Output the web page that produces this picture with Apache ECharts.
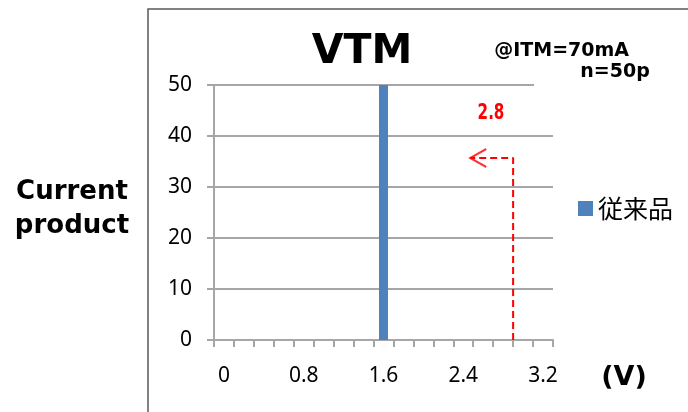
<!DOCTYPE html>
<html>
<head>
<meta charset="utf-8">
<script src="https://cdn.jsdelivr.net/npm/echarts@6/dist/echarts.min.js"></script>
<style>
  html, body { margin: 0; padding: 0; background: #fff; }
  #chart { width: 688px; height: 412px; }
</style>
</head>
<body>
<div id="chart"></div>
<script>
// VTM distribution, 0.2 V bins
var categories = ['0', '0.2', '0.4', '0.6', '0.8', '1', '1.2', '1.4', '1.6', '1.8', '2', '2.2', '2.4', '2.6', '2.8', '3', '3.2']
var xLabels = ['0', '', '', '', '0.8', '', '', '', '1.6', '', '', '', '2.4', '', '', '', '3.2']
var counts = [0, 0, 0, 0, 0, 0, 0, 0, 50, 0, 0, 0, 0, 0, 0, 0, 0]
// spec limit arrow (V, count)
var arrowPath = [[2.9, 0], [2.9, 35.7], [2.47, 35.7]]
var arrowTip = [[2.47, 35.7]]

var chart = echarts.init(document.getElementById('chart'))
var gray = '#a6a6a6'
var boldFont = 'DejaVu Sans'

chart.setOption({
  animation: false,
  grid: { left: 214, right: 135, top: 85, bottom: 72 },
  legend: {
    data: ['従来品'],
    left: 573,
    top: 191,
    icon: 'rect',
    itemWidth: 15,
    itemHeight: 15,
    textStyle: { fontSize: 25, color: '#000', fontFamily: 'Noto Sans CJK JP' }
  },
  xAxis: [
    {
      type: 'category',
      data: categories,
      boundaryGap: true,
      axisLine: { onZero: false, lineStyle: { color: gray, width: 2 } },
      axisTick: { show: true, interval: 0, length: 7, lineStyle: { color: gray, width: 2 } },
      axisLabel: {
        interval: 0,
        margin: 26,
        fontSize: 21,
        color: '#000',
        fontFamily: 'Noto Sans',
        formatter: function (v, i) { return xLabels[i] }
      },
      splitLine: { show: false }
    },
    {
      type: 'value',
      min: -0.1,
      max: 3.3,
      show: false
    }
  ],
  yAxis: {
    type: 'value',
    min: 0,
    max: 50,
    interval: 10,
    axisLine: { show: true, onZero: false, lineStyle: { color: gray, width: 2 } },
    axisTick: { show: true, length: 7, lineStyle: { color: gray, width: 2 } },
    axisLabel: { margin: 22, fontSize: 21, color: '#000', fontFamily: 'Noto Sans' },
    splitLine: { lineStyle: { color: gray, width: 2 } }
  },
  series: [
    {
      name: '従来品',
      type: 'bar',
      data: counts,
      barWidth: 9,
      itemStyle: { color: '#4f81bd' }
    },
    {
      type: 'line',
      xAxisIndex: 1,
      data: arrowPath,
      symbol: 'none',
      z: 5,
      lineStyle: { color: '#ff0000', width: 2, type: [7, 4] }
    },
    {
      type: 'scatter',
      xAxisIndex: 1,
      data: arrowTip,
      symbol: 'path://M18,0 L0,9 L18,18',
      symbolSize: [16, 18],
      symbolOffset: [8, 0],
      z: 5,
      itemStyle: { color: 'transparent', borderColor: '#ff0000', borderWidth: 2 }
    }
  ],
  graphic: [
    {
      type: 'rect',
      shape: { x: 148, y: 9, width: 600, height: 420 },
      style: { fill: 'none', stroke: '#595959', lineWidth: 1.5 },
      z: -1
    },
    {
      type: 'text',
      x: 362, y: 52,
      style: { text: 'VTM', font: 'bold 41px ' + boldFont, fill: '#000', align: 'center', verticalAlign: 'middle' }
    },
    {
      type: 'text',
      x: 629, y: 51,
      style: { text: '@ITM=70mA', font: 'bold 19px ' + boldFont, fill: '#000', align: 'right', verticalAlign: 'middle' }
    },
    {
      type: 'text',
      x: 534, y: 61,
      z: 10,
      style: {
        text: '       n=50p', font: 'bold 19px ' + boldFont, fill: '#000',
        backgroundColor: '#fff', padding: [2, 6, 6, 0]
      }
    },
    {
      type: 'text',
      x: 72, y: 209,
      style: {
        text: 'Current\nproduct', font: 'bold 26px ' + boldFont, fill: '#000',
        align: 'center', verticalAlign: 'middle', lineHeight: 34
      }
    },
    {
      type: 'text',
      x: 624, y: 378,
      style: { text: '(V)', font: 'bold 27px ' + boldFont, fill: '#000', align: 'center', verticalAlign: 'middle' }
    },
    {
      type: 'text',
      x: 491, y: 114,
      scaleX: 0.72,
      style: { text: '2.8', font: 'bold 21px ' + boldFont, fill: '#ff0000', align: 'center', verticalAlign: 'middle' }
    }
  ]
})
</script>
</body>
</html>
